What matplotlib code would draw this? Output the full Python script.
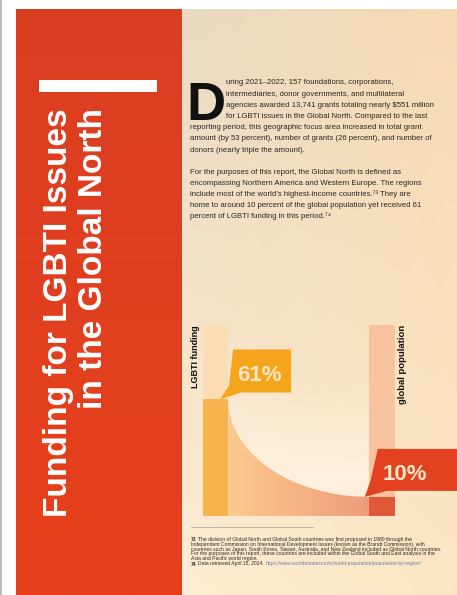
import numpy as np
import matplotlib
matplotlib.use("Agg")
import matplotlib.pyplot as plt
from matplotlib.patches import Rectangle, Polygon
from matplotlib.colors import to_rgb

W, H = 457, 595

# ---- data -------------------------------------------------------------
measures = ["LGBTI funding", "global population"]
shares = [61, 10]                      # percent of the global total
share_labels = ["61%", "10%"]

title_lines = ["Funding for LGBTI Issues", "in the Global North"]

drop_cap = "D"
para1_lead = [
    "uring 2021\u20132022, 157 foundations, corporations,",
    "intermediaries, donor governments, and multilateral",
    "agencies awarded 13,741 grants totaling nearly \\$551 million",
    "for LGBTI issues in the Global North. Compared to the last",
]
para1_rest = [
    "reporting period, this geographic focus area increased in total grant",
    "amount (by 53 percent), number of grants (26 percent), and number of",
    "donors (nearly triple the amount).",
]
para2 = [
    "For the purposes of this report, the Global North is defined as",
    "encompassing Northern America and Western Europe. The regions",
    "include most of the world\u2019s highest-income countries.\u2077\u00b3 They are",
    "home to around 10 percent of the global population yet received 61",
    "percent of LGBTI funding in this period.\u2077\u2074",
]
note73 = [
    "The division of Global North and Global South countries was first proposed in 1980 through the",
    "Independent Commission on International Development Issues (known as the Brandt Commission), with",
    "countries such as Japan, South Korea, Taiwan, Australia, and New Zealand included as Global North countries.",
    "For the purposes of this report, these countries are included within the Global South and East analysis in the",
    "Asia and Pacific world region.",
]
note74_text = "Data retrieved April 15, 2024."
note74_url = "https://www.worldometers.info/world-population/population-by-region/"

# ---- styles -----------------------------------------------------------
TEXT = "#2B2724"
SANS = ["Liberation Sans", "DejaVu Sans"]
track_colors = ["#FADDB2", "#F9C3A0"]
bar_colors = ["#F8B34F", "#E15838"]
callout_colors = ["#F5A51C", "#E2421F"]
callout_text = "#FDE7C4"

fig = plt.figure(figsize=(W / 100, H / 100), dpi=100)

# page / layout layer in pixel units
bg = fig.add_axes([0, 0, 1, 1])
bg.axis("off")

bg.add_patch(Rectangle((0, 0), 2, H, color="#BDBDBD", lw=0))

# cream page with a soft two-way tint
gx = np.linspace(0, 1, 120)
gy = np.linspace(0, 1, 160)
tl, tr = np.array(to_rgb("#EADAC3")), np.array(to_rgb("#F6DAB4"))
bl, br = np.array(to_rgb("#FDEDD2")), np.array(to_rgb("#FDE6C5"))
X, Y = np.meshgrid(gx, gy)
grad = ((1 - X)[..., None] * (1 - Y)[..., None] * tl + X[..., None] * (1 - Y)[..., None] * tr
        + (1 - X)[..., None] * Y[..., None] * bl + X[..., None] * Y[..., None] * br)
bg.imshow(grad, extent=(182, W, H, 9), origin="upper", aspect="auto",
          interpolation="bilinear", zorder=0)

# red title panel, slightly warmer towards the bottom
rt, rb = np.array(to_rgb("#DA3E22")), np.array(to_rgb("#E7401B"))
rg = np.linspace(0, 1, 100)[:, None, None]
red_strip = (1 - rg) * rt + rg * rb
bg.imshow(red_strip, extent=(16, 182, H, 9), origin="upper", aspect="auto",
          interpolation="bilinear", zorder=1)
bg.add_patch(Rectangle((39, 80), 118, 12, color="white", lw=0, zorder=2))
for xb, line in zip([67, 102], title_lines):
    bg.text(xb, 108, line, rotation=90, rotation_mode="anchor", ha="right",
            va="baseline", fontsize=24, fontweight="bold", color="white",
            family=SANS, zorder=3)

# body copy
bg.text(186.5, 120, drop_cap, fontsize=39, fontweight="bold", color="#111111",
        ha="left", va="baseline", family=SANS, zorder=3)
body_fs = 5.6
y0, dy = 84.5, 11.2
for i, line in enumerate(para1_lead):
    bg.text(226.5, y0 + i * dy, line, fontsize=body_fs, color=TEXT,
            family=SANS, va="baseline", zorder=3)
for i, line in enumerate(para1_rest):
    bg.text(190, y0 + (i + 4) * dy, line, fontsize=body_fs, color=TEXT,
            family=SANS, va="baseline", zorder=3)
for i, line in enumerate(para2):
    bg.text(190, 173.7 + i * dy, line, fontsize=body_fs, color=TEXT,
            family=SANS, va="baseline", zorder=3)

# footnotes
bg.plot([191, 313], [527, 527], color="#B9AC9C", lw=0.6, zorder=3)
fn_fs = 3.6
fy = [540.7, 545.6, 550.5, 555.4, 560.3]
bg.text(191, fy[0], "73", fontsize=fn_fs, fontweight="bold", color=TEXT,
        family=SANS, va="baseline", zorder=3)
bg.text(197.5, fy[0], note73[0], fontsize=fn_fs, color=TEXT, family=SANS,
        va="baseline", zorder=3)
for yy, line in zip(fy[1:], note73[1:]):
    bg.text(191, yy, line, fontsize=fn_fs, color=TEXT, family=SANS,
            va="baseline", zorder=3)
bg.text(191, 565.5, "74", fontsize=fn_fs, fontweight="bold", color=TEXT,
        family=SANS, va="baseline", zorder=3)
t74 = bg.text(197.5, 565.5, note74_text, fontsize=fn_fs, color=TEXT,
              family=SANS, va="baseline", zorder=3)

# chart labels
bg.text(195.5, 325, measures[0], rotation=90, ha="center", va="top",
        fontsize=6.5, fontweight="bold", color="#111111", family=SANS, zorder=3)
bg.text(402.5, 325, measures[1], rotation=90, ha="center", va="top",
        fontsize=6.8, fontweight="bold", color="#111111", family=SANS, zorder=3)

bg.set_xlim(0, W)
bg.set_ylim(H, 0)

# link follows the date text on the same line
renderer = fig.canvas.get_renderer()
ext = t74.get_window_extent(renderer=renderer)
url_x = bg.transData.inverted().transform((ext.x1, ext.y0))[0] + 2.5
bg.text(url_x, 565.5, note74_url, fontsize=fn_fs, color="#5F82A8", family=SANS,
        va="baseline", zorder=3)

# ---- chart ------------------------------------------------------------
PX_C0, PX_STEP = 215.5, 166.5          # bar centre and spacing in pixels
PX_BOT, PX_TOP = 516, 325              # 0 % and 100 % rows
ax = fig.add_axes([182 / W, (H - PX_BOT) / H, (W - 182) / W, (PX_BOT - PX_TOP) / H])
ax.axis("off")
ax.patch.set_alpha(0)
xpos = np.arange(len(shares))
w = 25.5 / PX_STEP
sx = 1 / PX_STEP                       # data units per pixel (x)
sy = 100 / (PX_BOT - PX_TOP)           # data units per pixel (y)

ax.bar(xpos, [100] * len(shares), width=w, color=track_colors, zorder=1)
ax.bar(xpos, shares, width=w, color=bar_colors, zorder=3)

# quarter-ellipse connecting the two bar tops, filled below with a gradient
x0, x1 = xpos[0] + w / 2, xpos[1] - w / 2
th = np.linspace(0, np.pi / 2, 200)
cx = x1 - (x1 - x0) * np.cos(th)
cy = shares[0] - (shares[0] - shares[1]) * np.sin(th)
area = np.column_stack([np.r_[cx, x1, x0], np.r_[cy, 0, 0]])

# lighter cream inside the arc, fading upwards
inner = Polygon(np.column_stack([np.r_[cx, x1, x1, x0], np.r_[cy, shares[0], 100, 100]]),
                closed=True, facecolor="none", lw=0, transform=ax.transData)
ax.add_patch(inner)
vy = np.linspace(0, 1, 200)[:, None]
glow = np.zeros((200, 2, 4))
glow[..., :3] = to_rgb("#FFF3E2")
glow[..., 3] = np.clip(1 - (vy * 100 - 20) / 55, 0, 1) * 0.85
gim = ax.imshow(glow, extent=(x0, x1, 0, 100), aspect="auto", origin="lower",
                interpolation="bilinear", zorder=1)
gim.set_clip_path(inner)

clip = Polygon(area, closed=True, facecolor="none", lw=0, transform=ax.transData)
ax.add_patch(clip)
g = np.linspace(0, 1, 256)
c_left, c_right = np.array(to_rgb("#FCCA8E")), np.array(to_rgb("#EF9C7D"))
strip = (1 - g)[None, :, None] * c_left + g[None, :, None] * c_right
im = ax.imshow(np.repeat(strip, 4, axis=0), extent=(x0, x1, 0, shares[0]),
               aspect="auto", origin="lower", interpolation="bilinear", zorder=2)
im.set_clip_path(clip)

# callouts anchored at bar tops (offsets in pixels from the tip)
shapes = [
    [(13, -50), (71, -50), (71, -7), (21, -7), (0, 0), (9, -14)],
    [(13, -48), (95, -48), (95, -6), (22, -6), (0, 0), (6, -17)],
]
text_off = [(39, -23.5), (40.5, -22)]
tip_dx = [0.18 * w, -w / 2 - 4.5 * sx]
for i, v in enumerate(shares):
    tx, ty = xpos[i] + tip_dx[i], v
    pts = [(tx + ox * sx, ty - oy * sy) for ox, oy in shapes[i]]
    ax.add_patch(Polygon(pts, closed=True, facecolor=callout_colors[i], lw=0,
                         zorder=5, clip_on=False))
    ax.text(tx + text_off[i][0] * sx, ty - text_off[i][1] * sy, share_labels[i],
            ha="center", va="center", fontsize=16, fontweight="bold",
            color=callout_text, family=SANS, zorder=6)

ax.set_xlim((182 - PX_C0) / PX_STEP, (W - PX_C0) / PX_STEP)
ax.set_ylim(0, 100)

fig.savefig("out.png", dpi=100)
